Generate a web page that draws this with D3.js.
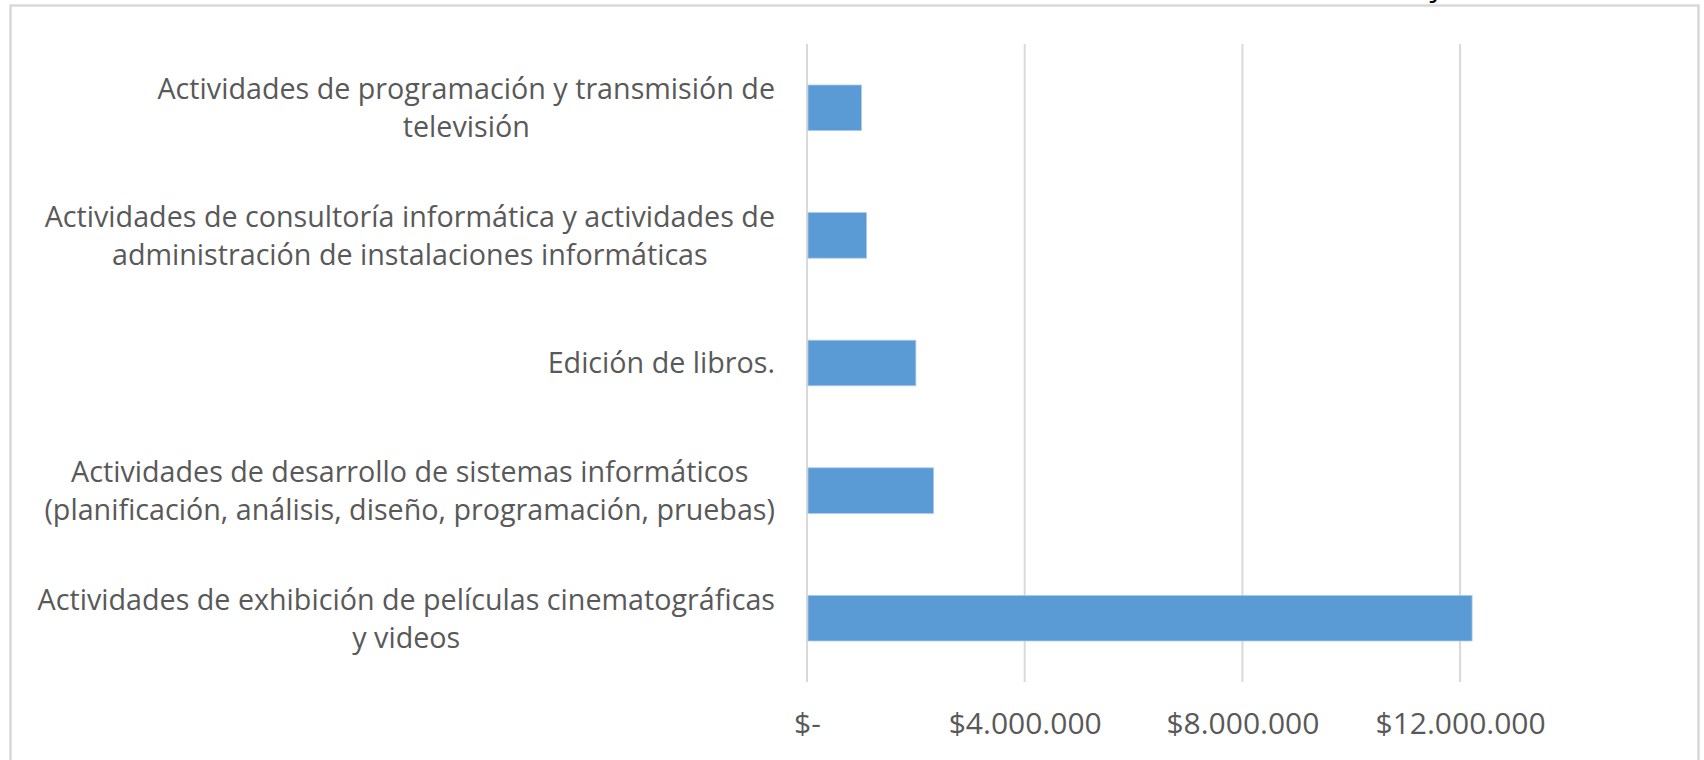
<!DOCTYPE html>
<html>
<head>
<meta charset="utf-8">
<script src="https://cdn.jsdelivr.net/npm/d3@7"></script>
<style>
  body { margin: 0; background: #fff; }
  svg { display: block; }
</style>
</head>
<body>
<svg id="chart"></svg>
<script>
// categories, top to bottom, already split into lines as in the picture
var categoryLines = [
  ["Actividades de programación y transmisión de", "televisión"],
  ["Actividades de consultoría informática y actividades de", "administración de instalaciones informáticas"],
  ["Edición de libros."],
  ["Actividades de desarrollo de sistemas informáticos", "(planificación, análisis, diseño, programación, pruebas)"],
  ["Actividades de exhibición de películas cinematográficas", "y videos"]
];
var values = [1000000, 1095000, 2000000, 2325000, 12220000];
var xTicks = [0, 4000000, 8000000, 12000000];
var xTickLabels = ["$-", "$4.000.000", "$8.000.000", "$12.000.000"];

var width = 1704,
    height = 760,
    plotLeft = 807,
    plotTop = 44,
    plotBottom = 682,
    labelRight = 775,
    lineGap = 38,
    font = "'Open Sans', 'Noto Sans', sans-serif";

var svg = d3.select("#chart")
    .attr("width", width)
    .attr("height", height);

svg.append("rect")
    .attr("width", width).attr("height", height)
    .attr("fill", "#fff");

// chart frame (picture is cropped at the top and bottom)
svg.append("rect")
    .attr("x", 10.5).attr("y", 5.5)
    .attr("width", 1688).attr("height", 820)
    .attr("fill", "none")
    .attr("stroke", "#d9d9d9")
    .attr("stroke-width", 2.5);

// tail of the cropped title
svg.append("text")
    .attr("x", 1437).attr("y", -4)
    .attr("text-anchor", "middle")
    .style("font-family", font)
    .style("font-size", "30px")
    .attr("fill", "#000")
    .text("y");

var cats = categoryLines.map(function (d, i) { return "c" + i; });

var x = d3.scaleLinear()
    .domain([0, 14000000])
    .range([plotLeft, plotLeft + 3.5 * 217.7]);

var y = d3.scaleBand()
    .domain(cats)
    .range([plotTop, plotBottom])
    .paddingInner(0.643)
    .paddingOuter(0.3215);

// gridlines
svg.append("g").selectAll("line")
    .data(xTicks)
    .enter().append("line")
    .attr("x1", function (d) { return x(d); })
    .attr("x2", function (d) { return x(d); })
    .attr("y1", plotTop)
    .attr("y2", plotBottom)
    .attr("stroke", "#d9d9d9")
    .attr("stroke-width", 2);

// bars
svg.append("g").selectAll("rect")
    .data(values)
    .enter().append("rect")
    .attr("x", x(0) + 1)
    .attr("y", function (d, i) { return y(cats[i]); })
    .attr("width", function (d) { return x(d) - x(0) - 1; })
    .attr("height", y.bandwidth())
    .attr("fill", "#5b9bd5")
    .attr("stroke", "#a9c9ea")
    .attr("stroke-width", 0.8);

// x tick labels
var xAxis = d3.axisBottom(x)
    .tickValues(xTicks)
    .tickSize(0)
    .tickPadding(0)
    .tickFormat(function (d, i) { return xTickLabels[i]; });

var ax = svg.append("g")
    .attr("transform", "translate(0," + 723 + ")")
    .call(xAxis);
ax.select(".domain").remove();
ax.selectAll("text")
    .attr("dy", "0.36em")
    .attr("fill", "#595959")
    .style("font-family", font)
    .style("font-size", "30px");

// category labels: block right-aligned to the axis, lines centred inside it
var labels = svg.append("g").selectAll("g")
    .data(categoryLines)
    .enter().append("g");

labels.each(function (lines, i) {
  var g = d3.select(this);
  var cy = y(cats[i]) + y.bandwidth() / 2;
  var texts = g.selectAll("text")
      .data(lines)
      .enter().append("text")
      .attr("y", function (d, j) { return cy + (j - (lines.length - 1) / 2) * lineGap; })
      .attr("dy", "0.36em")
      .attr("text-anchor", "middle")
      .attr("fill", "#595959")
      .style("font-family", font)
      .style("font-size", "28.7px")
      .text(function (d) { return d; });
  var maxW = d3.max(texts.nodes(), function (n) { return n.getComputedTextLength(); });
  texts.attr("x", labelRight - maxW / 2);
});
</script>
</body>
</html>
